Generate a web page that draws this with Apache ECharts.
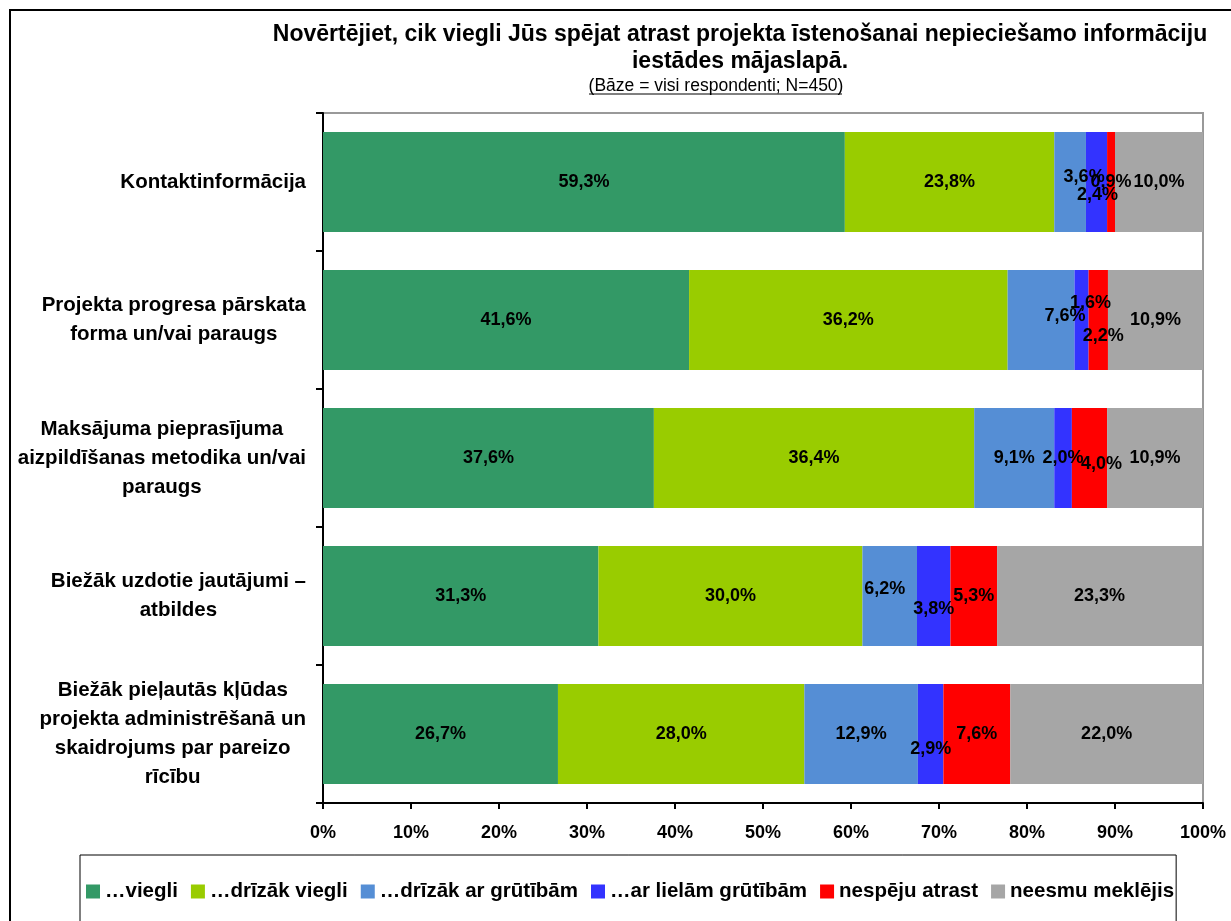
<!DOCTYPE html>
<html>
<head>
<meta charset="utf-8">
<script src="https://cdn.jsdelivr.net/npm/echarts@6/dist/echarts.min.js"></script>
<style>
  html, body { margin: 0; padding: 0; background: #fff; }
  #chart { width: 1231px; height: 921px; }
</style>
</head>
<body>
<div id="chart"></div>
<script>
// categories (top to bottom)
const categories = [
  'Kontaktinformācija',
  'Projekta progresa pārskata\nforma un/vai paraugs',
  'Maksājuma pieprasījuma\naizpildīšanas metodika un/vai\nparaugs',
  'Biežāk uzdotie jautājumi –\natbildes',
  'Biežāk pieļautās kļūdas\nprojekta administrēšanā un\nskaidrojums par pareizo\nrīcību'
]
const seriesNames = ['…viegli', '…drīzāk viegli', '…drīzāk ar grūtībām', '…ar lielām grūtībām', 'nespēju atrast', 'neesmu meklējis']
const viegli = [59.3, 41.6, 37.6, 31.3, 26.7]
const drizakViegli = [23.8, 36.2, 36.4, 30.0, 28.0]
const drizakGrutibam = [3.6, 7.6, 9.1, 6.2, 12.9]
const lielamGrutibam = [2.4, 1.6, 2.0, 3.8, 2.9]
const nespejuAtrast = [0.9, 2.2, 4.0, 5.3, 7.6]
const neesmuMeklejis = [10.0, 10.9, 10.9, 23.3, 22.0]
const xTicks = [0, 10, 20, 30, 40, 50, 60, 70, 80, 90, 100]

const colors = ['#339966', '#99CC00', '#558ED5', '#3333FF', '#FF0000', '#A6A6A6']
// manual label shifts as in the original (series-category)
const labelShift = {
  '2-0': [14, -5], '3-0': [1, 13],
  '2-1': [24, -4], '3-1': [9, -17], '4-1': [5, 16],
  '4-2': [12, 6],
  '2-3': [-5, -7], '3-3': [0, 13],
  '3-4': [0, 15]
}

const FONT = 'Liberation Sans, Arial, sans-serif'
const allValues = [viegli, drizakViegli, drizakGrutibam, lielamGrutibam, nespejuAtrast, neesmuMeklejis]

const series = allValues.map(function(vals, si) {
  return {
    name: seriesNames[si],
    type: 'bar',
    stack: 'total',
    barWidth: 100,
    itemStyle: { color: colors[si] },
    label: {
      show: true,
      position: 'inside',
      color: '#000',
      fontWeight: 'bold',
      fontSize: 18,
      fontFamily: FONT,
      formatter: function(p) { return p.value.toFixed(1).replace('.', ',') + '%' }
    },
    data: vals.map(function(v, ci) {
      const sh = labelShift[si + '-' + ci]
      return sh ? { value: v, label: { offset: sh } } : v
    })
  }
})

const chart = echarts.init(document.getElementById('chart'))
chart.setOption({
  animation: false,
  textStyle: { fontFamily: FONT },
  title: [
    {
      text: 'Novērtējiet, cik viegli Jūs spējat atrast projekta īstenošanai nepieciešamo informāciju\niestādes mājaslapā.',
      left: 735,
      top: 16,
      textAlign: 'center',
      textStyle: { fontSize: 23, fontWeight: 'bold', color: '#000', lineHeight: 27, fontFamily: FONT }
    },
    {
      text: '(Bāze = visi respondenti; N=450)',
      left: 711,
      top: 70,
      textAlign: 'center',
      textStyle: { fontSize: 17.5, fontWeight: 'normal', color: '#000', lineHeight: 22, fontFamily: FONT }
    }
  ],
  graphic: [
    { type: 'rect', shape: { x: 10, y: 10, width: 1240, height: 940 }, style: { fill: 'none', stroke: '#000', lineWidth: 2 }, silent: true },
    { type: 'line', shape: { x1: 589, y1: 94, x2: 842, y2: 94 }, style: { stroke: '#000', lineWidth: 1 }, silent: true }
  ],
  legend: {
    left: 80,
    top: 855,
    padding: [26, 2, 60, 6],
    borderColor: '#000',
    borderWidth: 1,
    itemWidth: 14,
    itemHeight: 14,
    itemGap: 13,
    icon: 'rect',
    textStyle: { fontSize: 20.5, fontWeight: 'bold', color: '#000', fontFamily: FONT },
    data: seriesNames
  },
  grid: {
    left: 323,
    right: 28,
    top: 113,
    bottom: 118,
    show: true,
    borderColor: '#999',
    borderWidth: 2
  },
  xAxis: {
    type: 'value',
    min: xTicks[0],
    max: xTicks[xTicks.length - 1],
    interval: 10,
    axisLine: { show: true, lineStyle: { color: '#000', width: 2 } },
    axisTick: { show: true, length: 6, lineStyle: { color: '#000', width: 2 } },
    splitLine: { show: false },
    axisLabel: {
      color: '#000',
      fontWeight: 'bold',
      fontSize: 18,
      margin: 21,
      formatter: '{value}%'
    }
  },
  yAxis: {
    type: 'category',
    inverse: true,
    data: categories,
    axisLine: { show: true, lineStyle: { color: '#000', width: 2 } },
    axisTick: { show: true, length: 7, lineStyle: { color: '#000', width: 2 } },
    axisLabel: {
      color: '#000',
      margin: 17,
      align: 'right',
      formatter: function(v) {
        return v.split('\n').map(function(l) { return '{c|' + l + '}' }).join('\n')
      },
      rich: {
        c: { align: 'center', fontWeight: 'bold', fontSize: 20.5, lineHeight: 29, color: '#000', fontFamily: FONT }
      }
    }
  },
  series: series
})
</script>
</body>
</html>
